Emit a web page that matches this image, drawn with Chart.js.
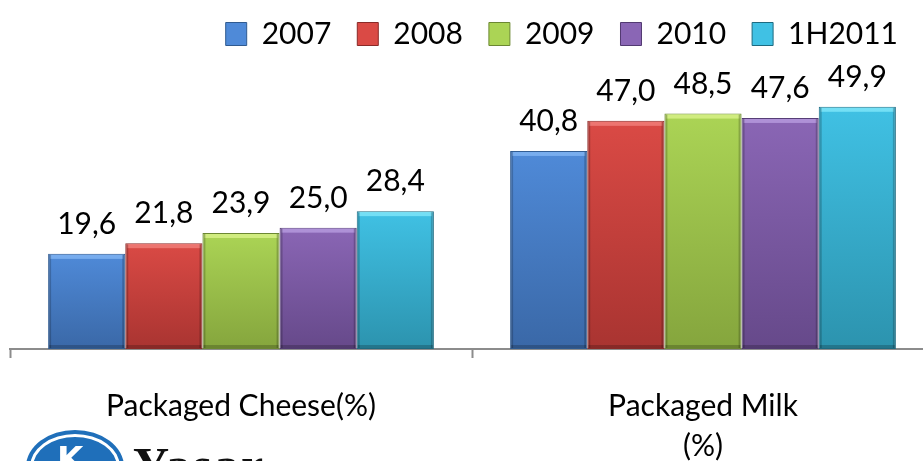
<!DOCTYPE html>
<html>
<head>
<meta charset="utf-8">
<script src="https://cdn.jsdelivr.net/npm/chart.js@4/dist/chart.umd.min.js"></script>
<style>
  html, body { margin: 0; padding: 0; background: #fff; overflow: hidden; }
  #wrap { position: relative; width: 934px; height: 495px; }
  #logo { position: absolute; left: 26px; top: 430px; width: 98px; height: 74px; border-radius: 50%;
          background: #1f6fba; box-sizing: border-box; }
  #logo .ring { position: absolute; left: 4px; top: 4px; right: 4px; bottom: 4px; border-radius: 50%;
          border: 3px solid #fff; }
  #logo .k { position: absolute; left: 31px; top: 9px; font: bold 34px "DejaVu Sans"; color: #fff; }
  #brand { position: absolute; left: 133px; top: 436px; font: bold 50px "Liberation Serif"; color: #111;
           letter-spacing: 2px; }
</style>
</head>
<body>
<div id="wrap">
  <canvas id="chart1"></canvas>
  <div id="logo"><div class="ring"></div><div class="k">K</div></div>
  <div id="brand">Yasar</div>
</div>
<script>
    var categories = [['Packaged Cheese(%)'], ['Packaged Milk', '(%)']];
    var years = ['2007', '2008', '2009', '2010', '1H2011'];
    var cheese = [19.6, 21.8, 23.9, 25.0, 28.4];
    var milk = [40.8, 47.0, 48.5, 47.6, 49.9];

    // top colour, bottom colour, top highlight, edge
    var palette = [
        ['#4f8ad8', '#3a68a7', '#86b8f5', '#2f5a90'],
        ['#da4a45', '#a93431', '#f3847f', '#8a2a28'],
        ['#abd455', '#85a53d', '#dcf48e', '#6b8732'],
        ['#8a66b5', '#66498a', '#bba0e3', '#523a72'],
        ['#40c1e4', '#2c93ae', '#86e9fb', '#1d6a80']
    ];

    function barFill(i) {
        return function(context) {
            var chart = context.chart;
            if (!chart.chartArea || context.parsed === undefined) return palette[i][0];
            var y = chart.scales.y;
            var top = y.getPixelForValue(context.parsed.y);
            var g = chart.ctx.createLinearGradient(0, top, 0, y.getPixelForValue(0));
            g.addColorStop(0, palette[i][0]);
            g.addColorStop(1, palette[i][1]);
            return g;
        };
    }

    var datasets = years.map(function(year, i) {
        return {
            label: year,
            data: [cheese[i], milk[i]],
            backgroundColor: barFill(i),
            borderColor: palette[i][3],
            borderWidth: 1,
            borderSkipped: false,
            barPercentage: 1.0,
            categoryPercentage: 0.835
        };
    });

    // light bevel strip along the top of every bar, darker strip at the bottom
    var bevel = {
        id: 'bevel',
        afterDatasetsDraw: function(chart) {
            var ctx = chart.ctx;
            chart.data.datasets.forEach(function(ds, i) {
                chart.getDatasetMeta(i).data.forEach(function(bar) {
                    var left = bar.x - bar.width / 2;
                    ctx.save();
                    ctx.fillStyle = palette[i][2];
                    ctx.globalAlpha = 0.75;
                    ctx.fillRect(left + 2, bar.y + 1, bar.width - 4, 4);
                    ctx.globalAlpha = 0.2;
                    ctx.fillStyle = '#000';
                    ctx.fillRect(left + 1, bar.base - 4, bar.width - 2, 3);
                    ctx.fillRect(left + 1, bar.y + 1, 2, bar.base - bar.y - 2);
                    ctx.fillRect(left + bar.width - 3, bar.y + 1, 2, bar.base - bar.y - 2);
                    ctx.restore();
                });
            });
        }
    };

    // value above each bar, decimal comma
    var valueLabels = {
        id: 'valueLabels',
        afterDatasetsDraw: function(chart) {
            var ctx = chart.ctx;
            ctx.save();
            ctx.font = '30px Lato';
            ctx.fillStyle = '#000';
            ctx.textAlign = 'center';
            ctx.textBaseline = 'alphabetic';
            chart.data.datasets.forEach(function(ds, i) {
                chart.getDatasetMeta(i).data.forEach(function(bar, j) {
                    ctx.fillText(ds.data[j].toFixed(1).replace('.', ','), bar.x, bar.y - 20);
                });
            });
            ctx.restore();
        }
    };

    // pull the legend row up and in from the right edge
    var legendNudge = {
        id: 'legendNudge',
        beforeDraw: function(chart) {
            var lg = chart.legend;
            if (lg._nudged) return;
            lg.right -= 10;
            lg.top -= 7;
            lg._nudged = true;
        }
    };

    var ctx = document.getElementById('chart1').getContext('2d');
    var myChart = new Chart(ctx, {
        type: 'bar',
        data: {
            labels: categories,
            datasets: datasets
        },
        plugins: [bevel, valueLabels, legendNudge],
        options: {
            responsive: true,
            maintainAspectRatio: false,
            animation: false,
            layout: {
                padding: { left: 10, right: 0, top: 0, bottom: 0 }
            },
            scales: {
                y: {
                    display: false,
                    min: 0,
                    max: 58.3
                },
                x: {
                    border: { color: '#8c8c8c', width: 2 },
                    grid: {
                        drawOnChartArea: false,
                        tickLength: 9,
                        tickWidth: 2,
                        tickColor: '#8c8c8c'
                    },
                    ticks: {
                        color: '#000',
                        padding: 28,
                        font: { family: 'Lato', size: 30, lineHeight: 1.35 },
                        maxRotation: 0,
                        autoSkip: false
                    }
                }
            },
            plugins: {
                tooltip: { enabled: false },
                legend: {
                    position: 'top',
                    align: 'end',
                    labels: {
                        color: '#000',
                        boxWidth: 21,
                        boxHeight: 23,
                        padding: 26,
                        font: { family: 'Lato', size: 30 },
                        generateLabels: function(chart) {
                            return years.map(function(year, i) {
                                return {
                                    text: year,
                                    fillStyle: palette[i][0],
                                    strokeStyle: palette[i][3],
                                    lineWidth: 1,
                                    datasetIndex: i
                                };
                            });
                        }
                    }
                }
            }
        }
    });
</script>
</body>
</html>
